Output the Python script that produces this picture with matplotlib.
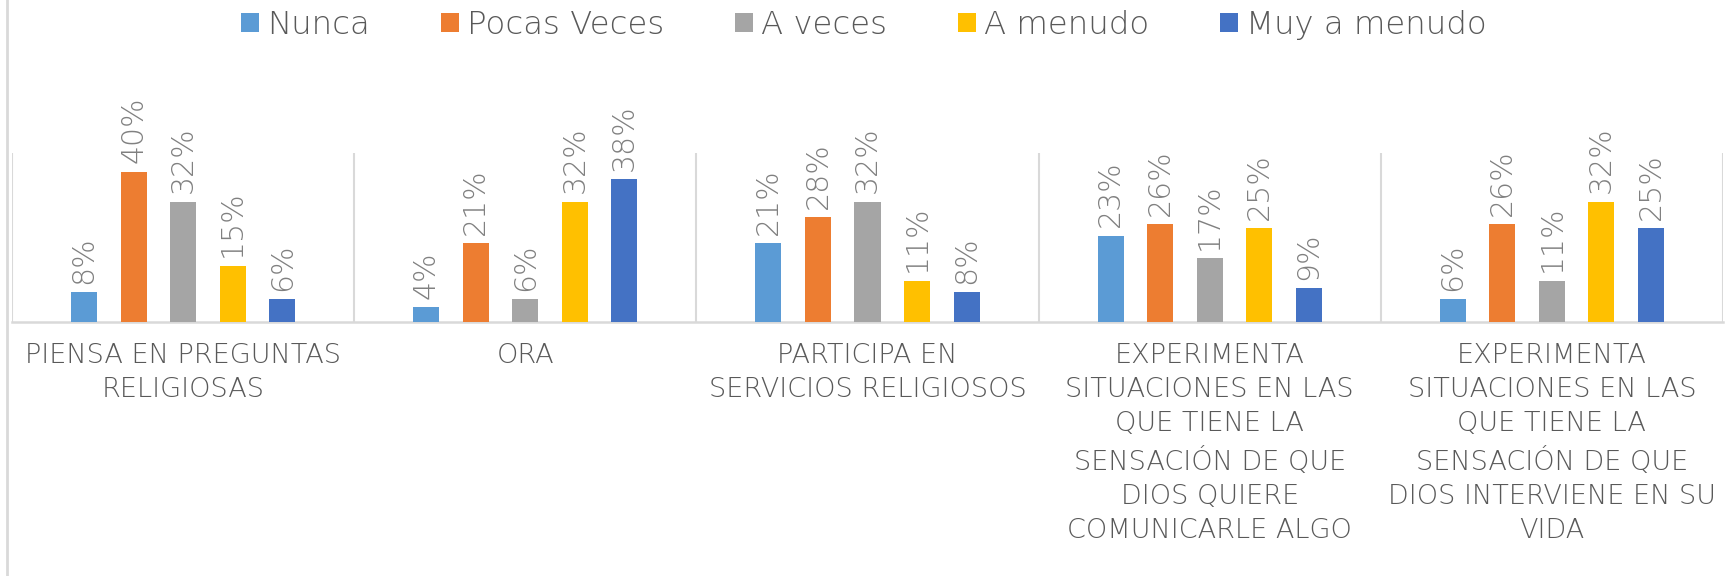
import numpy as np
import matplotlib
matplotlib.use("Agg")
import matplotlib.pyplot as plt
from matplotlib.patches import Patch
from matplotlib.lines import Line2D

# datos (porcentajes)
categorias = ["PIENSA EN PREGUNTAS\nRELIGIOSAS",
              "ORA",
              "PARTICIPA EN\nSERVICIOS RELIGIOSOS",
              "EXPERIMENTA\nSITUACIONES EN LAS\nQUE TIENE LA\nSENSACIÓN DE QUE\nDIOS QUIERE\nCOMUNICARLE ALGO",
              "EXPERIMENTA\nSITUACIONES EN LAS\nQUE TIENE LA\nSENSACIÓN DE QUE\nDIOS INTERVIENE EN SU\nVIDA"]
series = ["Nunca", "Pocas Veces", "A veces", "A menudo", "Muy a menudo"]
nunca = [8, 4, 21, 23, 6]
pocas_veces = [40, 21, 28, 26, 26]
a_veces = [32, 6, 32, 17, 11]
a_menudo = [15, 32, 11, 25, 32]
muy_a_menudo = [6, 38, 8, 9, 25]
valores = [nunca, pocas_veces, a_veces, a_menudo, muy_a_menudo]
colores = ["#5B9BD5", "#ED7D31", "#A5A5A5", "#FFC000", "#4472C4"]

plt.rcParams['font.family'] = ['DejaVu Sans']

fig = plt.figure(figsize=(17.28, 5.76), dpi=100)
ax = fig.add_axes([12/1728, 1-322/576, (1723-12)/1728, (322-153)/576])

x = np.arange(len(categorias))
paso = 0.1447
ancho = 0.076
for i, (nombre, vals, col) in enumerate(zip(series, valores, colores)):
    barras = ax.bar(x + (i-2)*paso, vals, width=ancho, color=col, label=nombre, zorder=3)
    ax.bar_label(barras, labels=[f"{v}%" for v in vals], rotation=90, padding=6,
                 fontsize=21.5, color="#808080", fontweight="light")

ax.set_xlim(-0.5, len(categorias)-0.5)
ax.set_ylim(0, 45)
# separadores entre categorías
ax.vlines(np.arange(len(categorias)+1)-0.5, 0, 45, color="#D9D9D9", lw=1.5, zorder=1)

for s in ["top", "right", "left"]:
    ax.spines[s].set_visible(False)
ax.spines["bottom"].set_color("#D9D9D9")
ax.spines["bottom"].set_linewidth(1.8)
ax.set_yticks([])
ax.set_xticks(x)
ax.set_xticklabels(categorias, fontsize=19.5, color="#595959", linespacing=1.46,
                   fontweight="light")
ax.tick_params(axis="x", length=0, pad=15)

# borde izquierdo del gráfico
fig.add_artist(Line2D([7/1728, 7/1728], [0, 1], color="#D9D9D9", lw=2))

handles = [Patch(facecolor=c, edgecolor="none") for c in colores]
leg = fig.legend(handles, series, loc="center", bbox_to_anchor=(0.5, 1-25/576), ncol=5,
                 frameon=False, handlelength=0.55, handleheight=0.55,
                 handletextpad=0.25, columnspacing=2.2, borderpad=0,
                 prop={"size": 23.3, "weight": "light"})
for t in leg.get_texts():
    t.set_color("#595959")

fig.savefig("out.png", dpi=100)
